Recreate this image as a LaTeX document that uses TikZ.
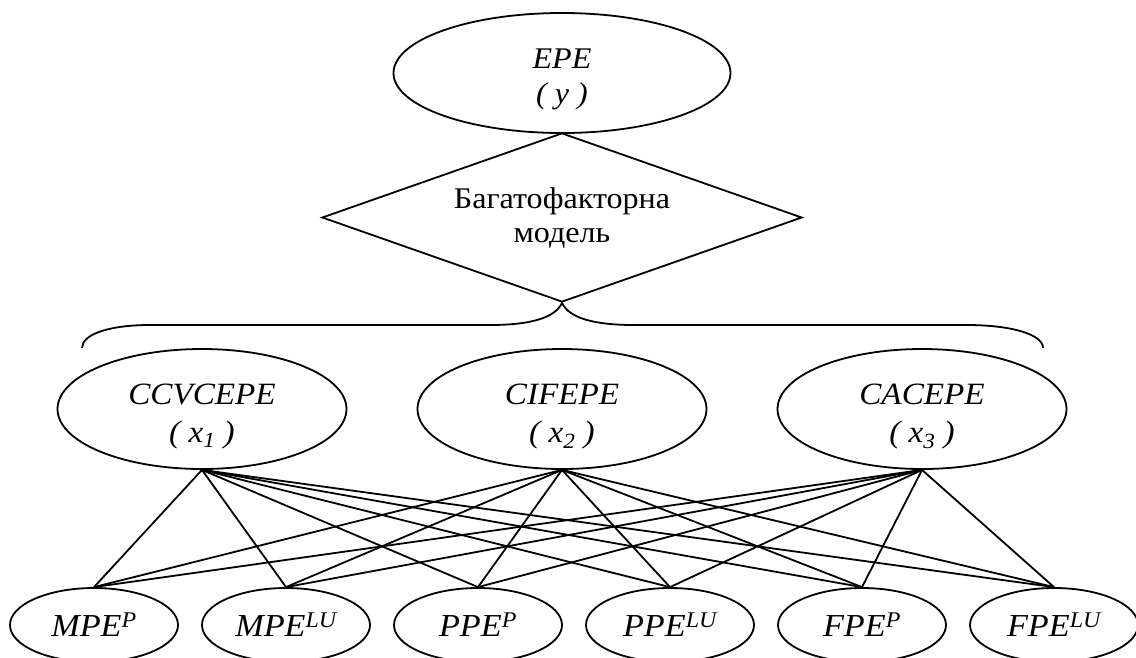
\documentclass[tikz,border=0pt]{standalone}
\usepackage{fontspec}
\setmainfont{Liberation Serif}[FakeStretch=1.07]
\usetikzlibrary{shapes.geometric}
\begin{document}
\begin{tikzpicture}[x=1pt,y=-1pt,line width=1.8pt,
    result/.style={draw,ellipse,inner sep=0pt,align=center,
      minimum width=337pt,minimum height=120pt,
      font=\fontsize{30}{35}\selectfont\itshape,text height=67pt},
    model/.style={draw,diamond,aspect=2.84,inner sep=0pt,align=center,
      minimum width=480pt,minimum height=169pt,
      font=\fontsize{30}{34}\selectfont},
    factor/.style={draw,ellipse,inner sep=0pt,align=center,
      minimum width=289pt,minimum height=120pt,
      font=\fontsize{31}{38}\selectfont\itshape,text height=73pt},
    indicator/.style={draw,ellipse,inner sep=0pt,
      minimum width=168pt,minimum height=74pt,
      font=\fontsize{32}{36}\selectfont\itshape}]
      \useasboundingbox (0,0) rectangle (1136,657);
      \draw
        (562,73) node[result] (epe){EPE\\( y )}
        (562,217.5) node[model] (model){Багатофакторна\\модель}
        (202,409) node[factor] (ccvcepe){CCVCEPE\\( x\textsubscript{1} )}
        (562,409) node[factor] (cifepe){CIFEPE\\( x\textsubscript{2} )}
        (922,409) node[factor] (cacepe){CACEPE\\( x\textsubscript{3} )}
        (94,625) node[indicator] (mpep){MPE\textsuperscript{P}}
        (286,625) node[indicator] (mpelu){MPE\textsuperscript{LU}}
        (478,625) node[indicator] (ppep){PPE\textsuperscript{P}}
        (670,625) node[indicator] (ppelu){PPE\textsuperscript{LU}}
        (862,625) node[indicator] (fpep){FPE\textsuperscript{P}}
        (1054,625) node[indicator] (fpelu){FPE\textsuperscript{LU}};
      \draw (82,348) .. controls (82,334) and (110,325) .. (150,325)
        -- (490,325) .. controls (530,325) and (555,318) .. (model.south)
        .. controls (569,318) and (594,325) .. (634,325)
        -- (967,325) .. controls (1010,325) and (1043,334) .. (1043,348);
      \begin{scope}[-]
        \draw (ccvcepe.south) to (mpep.north);
        \draw (ccvcepe.south) to (mpelu.north);
        \draw (ccvcepe.south) to (ppep.north);
        \draw (ccvcepe.south) to (ppelu.north);
        \draw (ccvcepe.south) to (fpep.north);
        \draw (ccvcepe.south) to (fpelu.north);
        \draw (cifepe.south) to (mpep.north);
        \draw (cifepe.south) to (mpelu.north);
        \draw (cifepe.south) to (ppep.north);
        \draw (cifepe.south) to (ppelu.north);
        \draw (cifepe.south) to (fpep.north);
        \draw (cifepe.south) to (fpelu.north);
        \draw (cacepe.south) to (mpep.north);
        \draw (cacepe.south) to (mpelu.north);
        \draw (cacepe.south) to (ppep.north);
        \draw (cacepe.south) to (ppelu.north);
        \draw (cacepe.south) to (fpep.north);
        \draw (cacepe.south) to (fpelu.north);
      \end{scope}
    \end{tikzpicture}
\end{document}
